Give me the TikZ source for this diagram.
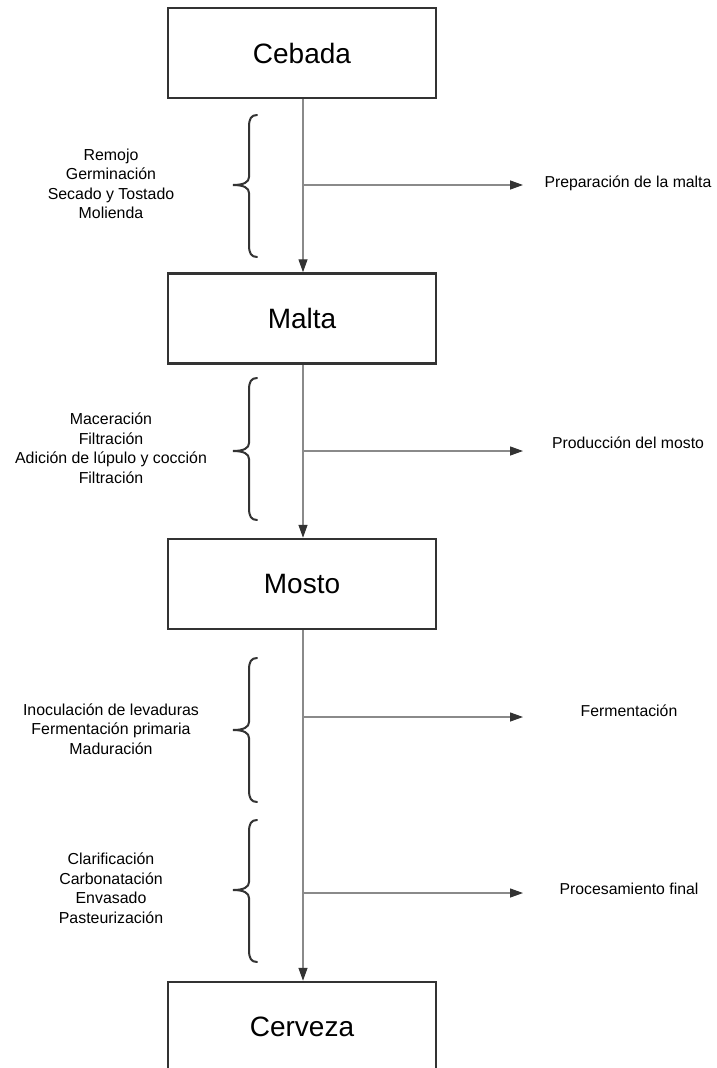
\documentclass[tikz,border=0pt]{standalone}
\usepackage{fontspec}
\setmainfont{Liberation Sans}
\usetikzlibrary{arrows.meta}
\definecolor{boxline}{HTML}{333333}
\definecolor{flowline}{HTML}{8A8A8A}
\definecolor{tipcol}{HTML}{333333}
\newcommand\mybrace[3]{%
  \draw[bracestyle] (257,#1) .. controls (251,#1) and (249,{#1+4}) .. (249,{#1+12})
    -- (249,{#2-8}) .. controls (249,{#2-3}) and (244,#2) .. (233,#2)
    .. controls (244,#2) and (249,{#2+3}) .. (249,{#2+8})
    -- (249,{#3-12}) .. controls (249,{#3-4}) and (251,#3) .. (257,#3);}
\begin{document}
\begin{tikzpicture}[x=1pt,y=-1pt,
  stage/.style={draw=boxline,line width=2.5pt,minimum width=268pt,minimum height=90pt,
    inner sep=0pt,font=\fontsize{28}{34}\selectfont},
  flow/.style={draw=flowline,line width=1.3pt,-{Triangle[length=13pt,width=9pt,color=tipcol]}},
  steps/.style={align=center,font=\fontsize{15.9}{19.5}\selectfont,inner sep=0pt},
  phase/.style={font=\fontsize{15.8}{19.5}\selectfont,inner sep=0pt},
  bracestyle/.style={draw=boxline,line width=2pt,line cap=round}]
\useasboundingbox (0,0) rectangle (716,1068);
\clip (0,0) rectangle (716,1068);
\fill[white] (0,0) rectangle (716,1068);
% stages
\node[stage] (cebada) at (302,53) {Cebada};
\node[stage] (malta) at (302,318.5) {Malta};
\node[stage] (mosto) at (302,584) {Mosto};
\node[stage] (cerveza) at (302,1027) {Cerveza};
% vertical flow
\draw[flow] (cebada.south -| 303,0) -- (malta.north -| 303,0);
\draw[flow] (malta.south -| 303,0) -- (mosto.north -| 303,0);
\draw[flow] (mosto.south -| 303,0) -- (cerveza.north -| 303,0);
% branch points and ends
\coordinate (b1) at (303,185);  \coordinate (e1) at (523,185);
\coordinate (b2) at (303,451);  \coordinate (e2) at (523,451);
\coordinate (b3) at (303,717);  \coordinate (e3) at (523,717);
\coordinate (b4) at (303,893);  \coordinate (e4) at (523,893);
\draw[flow] (b1) -- (e1);
\draw[flow] (b2) -- (e2);
\draw[flow] (b3) -- (e3);
\draw[flow] (b4) -- (e4);
% phase labels
\node[phase] (p1) at (628,183) {Preparación de la malta};
\node[phase] (p2) at (628,443) {Producción del mosto};
\node[phase] (p3) at (629,711) {Fermentación};
\node[phase] (p4) at (629,889) {Procesamiento final};
% braces
\mybrace{115}{185}{257}
\mybrace{378}{451}{520}
\mybrace{658}{730}{802}
\mybrace{820}{890}{962}
% step lists
\node[steps] (s1) at (111,184) {Remojo\\Germinación\\Secado y Tostado\\Molienda};
\node[steps] (s2) at (111,448) {Maceración\\Filtración\\Adición de lúpulo y cocción\\Filtración};
\node[steps] (s3) at (111,729) {Inoculación de levaduras\\Fermentación primaria\\Maduración};
\node[steps] (s4) at (111,888) {Clarificación\\Carbonatación\\Envasado\\Pasteurización};
\end{tikzpicture}
\end{document}
